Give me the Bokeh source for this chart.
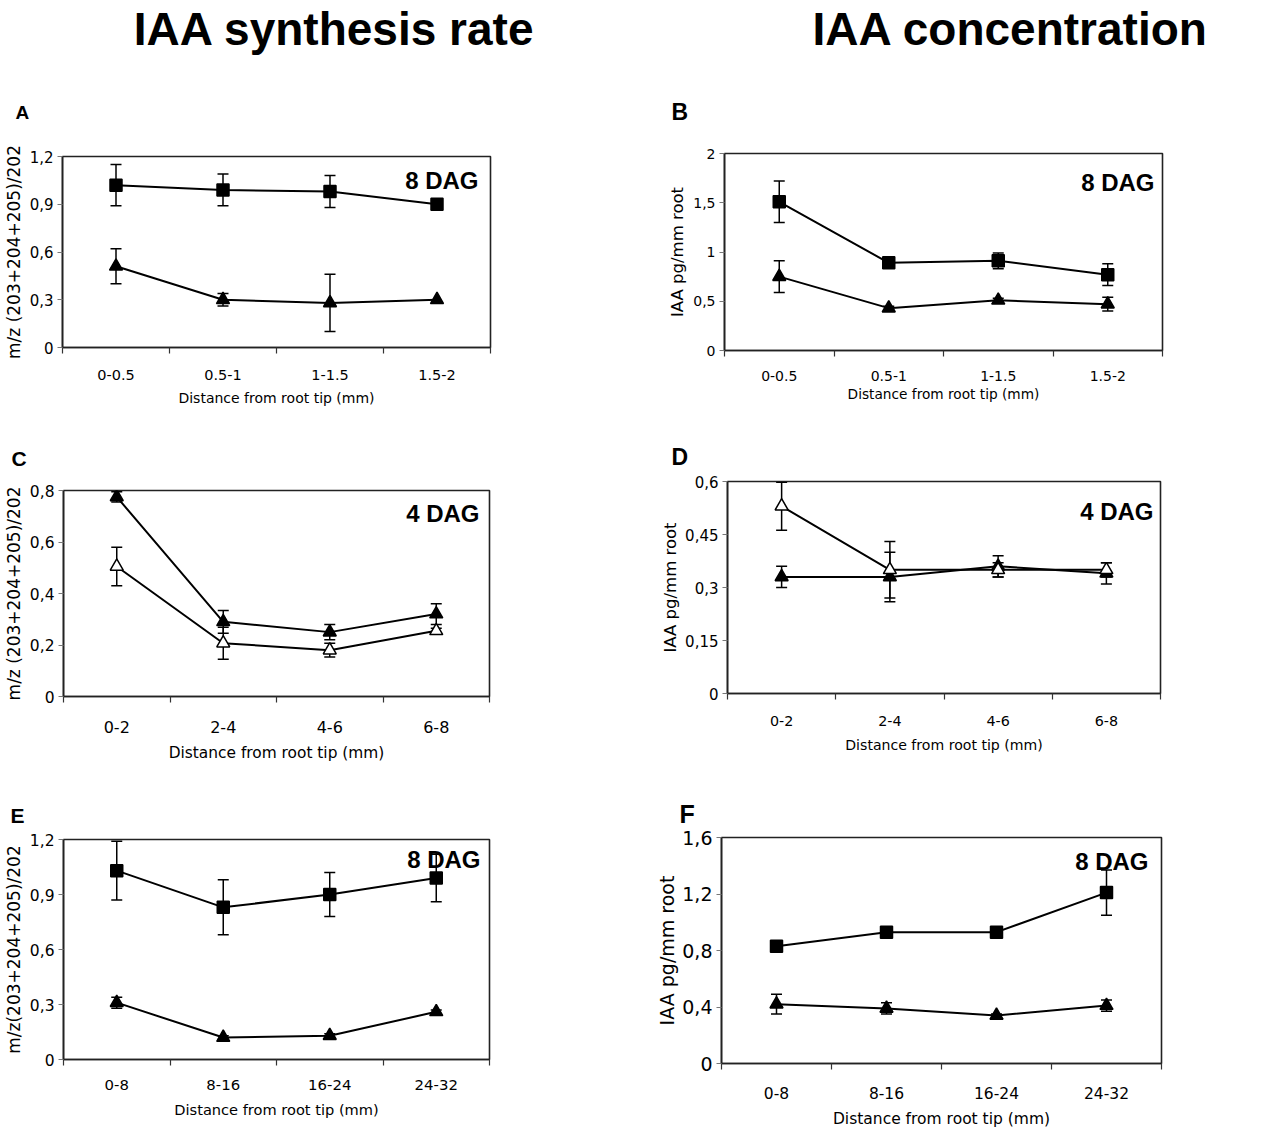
from bokeh.plotting import figure
from bokeh.models import (Range1d, FixedTicker, CustomJSTickFormatter, Whisker, TeeHead,
                          ColumnDataSource, Label)
from bokeh.layouts import column, row
from bokeh.core.properties import value
from bokeh.embed import file_html
from bokeh.resources import INLINE

# ---------------- data ----------------
column_titles = ["IAA synthesis rate", "IAA concentration"]
panel_letters = ["A", "B", "C", "D", "E", "F"]
stage_labels = ["8 DAG", "8 DAG", "4 DAG", "4 DAG", "8 DAG", "8 DAG"]

cats_short = ["0-0.5", "0.5-1", "1-1.5", "1.5-2"]
cats_mid = ["0-2", "2-4", "4-6", "6-8"]
cats_long = ["0-8", "8-16", "16-24", "24-32"]

x_title = "Distance from root tip (mm)"
ylab_rate = "m/z (203+204+205)/202"
ylab_rate_e = "m/z(203+204+205)/202"
ylab_conc = "IAA pg/mm root"

yticks_A = [0, 0.3, 0.6, 0.9, 1.2]
yticks_B = [0, 0.5, 1, 1.5, 2]
yticks_C = [0, 0.2, 0.4, 0.6, 0.8]
yticks_D = [0, 0.15, 0.3, 0.45, 0.6]
yticks_E = [0, 0.3, 0.6, 0.9, 1.2]
yticks_F = [0, 0.4, 0.8, 1.2, 1.6]

A_square = [1.02, 0.99, 0.98, 0.90]
A_square_err = [0.13, 0.10, 0.10, 0.0]
A_tri = [0.51, 0.30, 0.28, 0.30]
A_tri_err = [0.11, 0.04, 0.18, 0.0]

B_square = [1.51, 0.89, 0.91, 0.77]
B_square_err = [0.21, 0.02, 0.08, 0.11]
B_tri = [0.75, 0.43, 0.51, 0.47]
B_tri_err = [0.16, 0.02, 0.02, 0.07]

C_tri = [0.775, 0.29, 0.25, 0.32]
C_tri_err = [0.02, 0.044, 0.03, 0.04]
C_open = [0.505, 0.207, 0.18, 0.255]
C_open_err = [0.075, 0.062, 0.027, 0.01]

D_tri = [0.33, 0.33, 0.36, 0.34]
D_tri_err = [0.03, 0.07, 0.03, 0.03]
D_open = [0.53, 0.35, 0.35, 0.35]
D_open_err = [0.068, 0.08, 0.02, 0.02]

E_square = [1.03, 0.83, 0.90, 0.99]
E_square_err = [0.16, 0.15, 0.12, 0.13]
E_tri = [0.31, 0.12, 0.13, 0.26]
E_tri_err = [0.03, 0.01, 0.01, 0.01]

F_square = [0.83, 0.93, 0.93, 1.21]
F_square_err = [0.01, 0.01, 0.01, 0.16]
F_tri = [0.42, 0.39, 0.34, 0.41]
F_tri_err = [0.07, 0.04, 0.01, 0.04]

# ---------------- layout / style ----------------
W = 1268
AX_FONT = "DejaVu Sans"
BOLD_FONT = "Liberation Sans"

LAYOUT = {
    "A": dict(fw=428, fh=191, bl=61, br=151, bt=16, bb=73, yt=15, yl=17, yls=3,
              xt=14.5, xts=16, xl=14, xls=7, dag=(12, 23.5)),
    "B": dict(fw=438, fh=197, bl=83, br=107, bt=13, bb=70, yt=14, yl=16.5, yls=3,
              xt=14, xts=14, xl=13.7, xls=2, dag=(8, 29)),
    "C": dict(fw=426, fh=206, bl=63, br=151, bt=20, bb=74, yt=15.5, yl=17, yls=3,
              xt=16, xts=18, xl=15.4, xls=8, dag=(10, 23.3)),
    "D": dict(fw=433, fh=212, bl=87, br=108, bt=11, bb=77, yt=15, yl=16.5, yls=2,
              xt=14.3, xts=16, xl=14.1, xls=8, dag=(7, 29.5)),
    "E": dict(fw=426, fh=220, bl=63, br=151, bt=11, bb=66, yt=15.5, yl=17, yls=3,
              xt=14.9, xts=14, xl=14.6, xls=8, dag=(9, 19.5)),
    "F": dict(fw=440, fh=226, bl=81, br=107, bt=9, bb=62, yt=19, yl=19, yls=1,
              xt=15.5, xts=17, xl=15.5, xls=8, dag=(13, 24)),
}


def panel(key, cats, yticks, series, ylabel, stage):
    L = LAYOUT[key]
    n = len(cats)
    ymax = yticks[-1]
    p = figure(frame_width=L["fw"], frame_height=L["fh"], title=None,
               x_range=Range1d(0, n), y_range=Range1d(0, ymax),
               output_backend="svg", toolbar_location=None,
               min_border_left=L["bl"], min_border_right=L["br"],
               min_border_top=L["bt"], min_border_bottom=L["bb"])
    p.background_fill_color = "white"
    p.border_fill_color = "white"
    p.grid.visible = False
    p.outline_line_color = "#222222"
    p.outline_line_width = 1.6
    p.outline_line_alpha = 1.0

    xs = [i + 0.5 for i in range(n)]

    # x axis
    xa = p.xaxis[0]
    xa.ticker = FixedTicker(ticks=xs, minor_ticks=list(range(n + 1)))
    xa.formatter = CustomJSTickFormatter(args=dict(cats=cats),
                                         code="return cats[Math.round(tick - 0.5)];")
    xa.major_tick_out = 0
    xa.major_tick_in = 0
    xa.minor_tick_out = 6
    xa.minor_tick_in = 0
    xa.minor_tick_line_color = "#333333"
    xa.minor_tick_line_width = 1.2
    xa.axis_line_color = "#222222"
    xa.axis_line_width = 1.6
    xa.major_label_text_font = AX_FONT
    xa.major_label_text_font_size = f"{L['xt']}px"
    xa.major_label_text_color = "black"
    xa.major_label_standoff = int(L["xts"])
    xa.axis_label = x_title
    xa.axis_label_text_font = AX_FONT
    xa.axis_label_text_font_style = "normal"
    xa.axis_label_text_font_size = f"{L['xl']}px"
    xa.axis_label_text_color = "black"
    xa.axis_label_standoff = int(L["xls"])

    # y axis
    ya = p.yaxis[0]
    ya.ticker = FixedTicker(ticks=yticks, minor_ticks=[])
    ya.formatter = CustomJSTickFormatter(code="return String(tick).replace('.', ',');")
    ya.major_tick_out = 5
    ya.major_tick_in = 0
    ya.minor_tick_out = 0
    ya.minor_tick_in = 0
    ya.major_tick_line_color = "#777777"
    ya.axis_line_color = "#222222"
    ya.axis_line_width = 1.6
    ya.major_label_text_font = AX_FONT
    ya.major_label_text_font_size = f"{L['yt']}px"
    ya.major_label_text_color = "black"
    ya.major_label_standoff = 4
    ya.axis_label = ylabel
    ya.axis_label_text_font = AX_FONT
    ya.axis_label_text_font_style = "normal"
    ya.axis_label_text_font_size = f"{L['yl']}px"
    ya.axis_label_text_color = "black"
    ya.axis_label_standoff = int(L["yls"])

    # series
    for marker, ys, errs, filled in series:
        wx = [x for x, e in zip(xs, errs) if e > 0]
        wy = [y for y, e in zip(ys, errs) if e > 0]
        we = [e for e in errs if e > 0]
        src = ColumnDataSource(dict(x=wx, upper=[min(y + e, ymax) for y, e in zip(wy, we)],
                                    lower=[y - e for y, e in zip(wy, we)]))
        wh = Whisker(source=src, base="x", upper="upper", lower="lower",
                     line_color="black", line_width=1.5,
                     upper_head=TeeHead(size=11, line_color="black", line_width=1.5),
                     lower_head=TeeHead(size=11, line_color="black", line_width=1.5))
        p.add_layout(wh)
        p.line(xs, ys, line_color="black", line_width=2)

    for marker, ys, errs, filled in series:
        size = 12 if marker == "square" else 13
        p.scatter(xs, ys, marker=marker, size=size,
                  fill_color="black" if filled else "white",
                  line_color="black", line_width=1.5)

    gap, off = L["dag"]
    lab = Label(x=n - gap * n / L["fw"], y=ymax - off * ymax / L["fh"], text=stage,
                text_align="right", text_baseline="middle",
                text_font=BOLD_FONT, text_font_style="bold", text_font_size="24px",
                text_color="black")
    p.add_layout(lab)
    return p


def header(h, items):
    p = figure(width=W, height=h, x_range=Range1d(0, W), y_range=Range1d(h, 0),
               title=None, min_border=0, output_backend="svg", toolbar_location=None,
               x_axis_location=None, y_axis_location=None)
    p.grid.visible = False
    p.outline_line_color = None
    p.background_fill_color = "white"
    p.border_fill_color = "white"
    for (txt, x, y, size, align) in items:
        p.text(x=[x], y=[y], text=[txt], text_font=value(BOLD_FONT),
               text_font_style="bold", text_font_size=f"{size}px",
               text_align=align, text_baseline="middle", text_color="black")
    return p


pA = panel("A", cats_short, yticks_A,
           [("square", A_square, A_square_err, True), ("triangle", A_tri, A_tri_err, True)],
           ylab_rate, stage_labels[0])
pB = panel("B", cats_short, yticks_B,
           [("square", B_square, B_square_err, True), ("triangle", B_tri, B_tri_err, True)],
           ylab_conc, stage_labels[1])
pC = panel("C", cats_mid, yticks_C,
           [("triangle", C_tri, C_tri_err, True), ("triangle", C_open, C_open_err, False)],
           ylab_rate, stage_labels[2])
pD = panel("D", cats_mid, yticks_D,
           [("triangle", D_tri, D_tri_err, True), ("triangle", D_open, D_open_err, False)],
           ylab_conc, stage_labels[3])
pE = panel("E", cats_long, yticks_E,
           [("square", E_square, E_square_err, True), ("triangle", E_tri, E_tri_err, True)],
           ylab_rate_e, stage_labels[4])
pF = panel("F", cats_long, yticks_F,
           [("square", F_square, F_square_err, True), ("triangle", F_tri, F_tri_err, True)],
           ylab_conc, stage_labels[5])

h1 = header(140, [(column_titles[0], 334, 28.5, 46, "center"),
                  (column_titles[1], 1010, 28.5, 46, "center"),
                  (panel_letters[0], 15, 111.5, 19, "left"),
                  (panel_letters[1], 671, 111.5, 23, "left")])
h2 = header(50, [(panel_letters[2], 11, 37.5, 21, "left"),
                 (panel_letters[3], 671, 36.5, 23, "left")])
h3 = header(58, [(panel_letters[4], 10, 44.5, 21, "left"),
                 (panel_letters[5], 679, 43.5, 25, "left")])

layout = column(h1, row(column(pA), column(pB)), h2, row(column(pC), column(pD)),
                h3, row(column(pE), column(pF)))

open("out.html", "w").write(file_html(layout, INLINE))
